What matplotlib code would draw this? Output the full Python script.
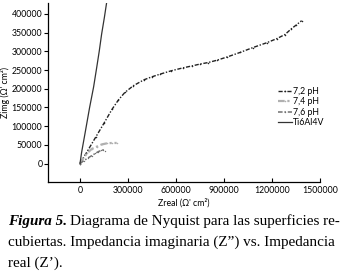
import matplotlib.pyplot as plt
import numpy as np

# data (Zreal, Zimg in ohm cm2)
zr_72 = [0, 50000, 100000, 150000, 200000, 240000, 280000, 333000, 400000, 450000,
         500000, 570000, 645000, 700000, 750000, 800000, 854000, 920000, 1000000,
         1080000, 1167000, 1230000, 1281000, 1320000, 1350000, 1385000]
zi_72 = [0, 36000, 72000, 108000, 145000, 170000, 190000, 208000, 224000, 232000,
         239000, 248000, 256000, 261000, 266000, 270000, 276000, 285000, 297000,
         310000, 323000, 334000, 345000, 360000, 370000, 382000]

zr_74 = [0, 20000, 45000, 73000, 104000, 135000, 167000, 200000, 229000]
zi_74 = [0, 14000, 28000, 39000, 45000, 51000, 54000, 55000, 55000]

zr_76 = [0, 25000, 50000, 73000, 95000, 115000, 132000, 146000, 156000]
zi_76 = [0, 8000, 15000, 21000, 27000, 32000, 35000, 36500, 33000]

zr_ti = [0, 10000, 31000, 60000, 85000, 104000, 120000, 135000, 152000, 168000, 185000]
zi_ti = [0, 30000, 80000, 150000, 205000, 256000, 300000, 346000, 390000, 435000, 480000]

labels = ["7,2 pH", "7,4 pH", "7,6 pH", "Ti6Al4V"]
xticks = [0, 300000, 600000, 900000, 1200000, 1500000]
yticks = [0, 50000, 100000, 150000, 200000, 250000, 300000, 350000, 400000]

sans = "Lato"
dashdot = (0, (3, 1.2, 1, 1.2))

fig = plt.figure(figsize=(3.43, 2.72), dpi=100)
ax = fig.add_axes([0.14, 0.33, 0.793, 0.66])

ax.plot(zr_72, zi_72, color="#222222", lw=1.0, ls=dashdot,
        marker="o", ms=1.1, mew=0, label=labels[0])
ax.plot(zr_74, zi_74, color="#b0b0b0", lw=1.6, ls=dashdot,
        marker="o", ms=1.1, mew=0, label=labels[1])
ax.plot(zr_76, zi_76, color="#707070", lw=1.1, ls=dashdot,
        marker="o", ms=1.0, mew=0, label=labels[2])
ax.plot(zr_ti, zi_ti, color="#333333", lw=0.9, label=labels[3])

ax.set_xlim(-200000, 1500000)
ax.set_ylim(-50000, 430000)
ax.set_xticks(xticks)
ax.set_yticks(yticks)
ax.set_xticklabels([str(v) for v in xticks], fontsize=6.3, family=sans)
ax.set_yticklabels([str(v) for v in yticks], fontsize=6.3, family=sans)
ax.tick_params(axis="x", direction="in", length=3, width=0.8, pad=3)
ax.tick_params(axis="y", direction="out", length=3, width=0.8, pad=1)

for s in ["top", "right"]:
    ax.spines[s].set_visible(False)
for s in ["left", "bottom"]:
    ax.spines[s].set_linewidth(0.9)

ax.set_xlabel("Zreal (\u03a9' cm\u00b2)", fontsize=6.3, family=sans, labelpad=2)
ax.set_ylabel("Zimg (\u03a9' cm\u00b2)", fontsize=6.3, family=sans, labelpad=1)

leg = ax.legend(loc="upper left", bbox_to_anchor=(0.83, 0.555), frameon=False,
                prop={"family": sans, "size": 6.3}, handlelength=1.6,
                handletextpad=0.1, labelspacing=0.15, borderpad=0)

# caption
cap_size = 10.9
serif = "Liberation Serif"
x0 = 8 / 343.0
base = [225, 246, 267]
t1 = fig.text(x0, 1 - base[0] / 272.0, "Figura 5.", fontsize=cap_size, family=serif,
              style="italic", weight="bold", va="baseline")
fig.canvas.draw()
bb = t1.get_window_extent(fig.canvas.get_renderer())
x1 = bb.x1 / fig.bbox.width + 3 / 343.0
fig.text(x1, 1 - base[0] / 272.0, "Diagrama de Nyquist para las superficies re-",
         fontsize=cap_size, family=serif, va="baseline")
fig.text(x0, 1 - base[1] / 272.0,
         "cubiertas. Impedancia imaginaria (Z\u201d) vs. Impedancia",
         fontsize=cap_size, family=serif, va="baseline")
fig.text(x0, 1 - base[2] / 272.0, "real (Z\u2019).", fontsize=cap_size, family=serif,
         va="baseline")

fig.savefig("out.png", dpi=100)
plt.close(fig)
